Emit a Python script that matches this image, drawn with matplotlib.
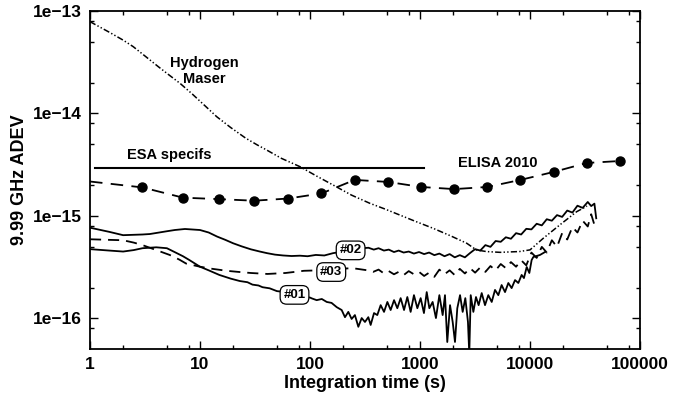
import numpy as np
import matplotlib
matplotlib.use("Agg")
import matplotlib.pyplot as plt
from matplotlib.ticker import LogLocator, FixedLocator, NullFormatter

plt.rcParams['font.family'] = ['Liberation Sans', 'DejaVu Sans']
plt.rcParams['font.weight'] = 'bold'
plt.rcParams['lines.scale_dashes'] = False

# ---------------- data ----------------
# Hydrogen maser (dash-dot-dot)
tau_maser = [1, 1.5, 2, 2.47, 3.2, 4.2, 5.3, 6.58, 8.5, 11, 14.2, 19, 26, 33, 40.4, 55,
             81, 115, 163, 238, 350, 480, 658, 900, 1310, 1900, 2660, 3250, 4000,
             5340, 8000, 10000, 13200, 18700, 26500, 33000]
adev_maser = [7.87e-14, 6.2e-14, 5.2e-14, 4.49e-14, 3.6e-14, 2.85e-14, 2.35e-14, 1.97e-14,
              1.55e-14, 1.2e-14, 9.3e-15, 7.3e-15, 5.75e-15, 4.95e-15, 4.4e-15, 3.65e-15,
              3.03e-15, 2.45e-15, 2.0e-15, 1.6e-15, 1.33e-15, 1.17e-15, 1.02e-15, 8.9e-16,
              7.6e-16, 6.4e-16, 5.42e-16, 4.67e-16, 4.5e-16, 4.42e-16, 4.5e-16, 4.67e-16,
              6.06e-16, 8.2e-16, 1.1e-15, 1.25e-15]

# ESA specification
tau_esa = [1.1, 1090]
adev_esa = [2.94e-15, 2.94e-15]

# ELISA 2010 (units 1e-15)
tau_elisa = [1, 3, 7, 15, 31, 63, 127, 255, 511, 1023, 2047, 4095, 8191, 16383, 32767, 65535]
adev_elisa = [2.17, 1.90, 1.51, 1.46, 1.41, 1.48, 1.66, 2.25, 2.15, 1.92, 1.83, 1.92,
              2.25, 2.69, 3.29, 3.44]

# #01 (units 1e-16)
tau_01 = [1, 1.5, 2, 2.5, 3, 4, 5, 6, 7, 8, 10, 12, 15, 19, 23, 27, 30, 34, 37, 43, 50,
          57, 65, 72, 80, 90, 100,
          104, 115, 128, 142, 157, 175, 194, 208, 223, 239, 256, 275, 295, 316, 339, 356,
          382, 409, 439, 471, 505, 541, 581, 622, 667, 716, 767, 822, 881, 946, 1014,
          1086, 1151, 1216, 1303, 1396, 1500, 1607, 1687, 1770, 1875, 1982, 2080, 2183,
          2312, 2443, 2582, 2729, 2805, 2891, 3055, 3228, 3412, 3639, 3899, 4178, 4487,
          4808, 5152, 5521, 5929, 6353, 6808, 7311, 7834, 8395, 8810, 9333, 9863, 10350,
          10720, 12330, 13680]
adev_01 = [4.75, 4.6, 4.5, 4.65, 4.85, 4.95, 4.85, 4.4, 4.05, 3.72, 3.2, 2.95, 2.66,
           2.45, 2.32, 2.26, 2.14, 2.1, 2.02, 1.97, 1.85, 1.82, 1.74, 1.72, 1.66, 1.63, 1.6,
           1.57, 1.51, 1.55, 1.45, 1.42, 1.29, 1.21, 1.03, 1.16, 0.99, 1.08, 0.83, 1.01,
           0.925, 1.03, 0.865, 1.13, 1.08, 1.35, 1.16, 1.45, 1.21, 1.51, 1.26, 1.58, 1.21,
           1.62, 1.16, 1.69, 1.26, 1.58, 1.13, 1.81, 1.26, 1.45, 1.01, 1.69, 1.08, 1.69,
           0.59, 1.35, 0.925, 0.59, 1.26, 1.69, 1.16, 1.58, 0.925, 0.45, 1.69, 1.16, 1.62,
           1.35, 1.77, 1.35, 1.69, 1.45, 1.90, 1.69, 2.12, 1.81, 2.22, 1.98, 2.37, 2.22,
           2.66, 2.48, 3.18, 2.78, 3.72, 3.98, 4.17, 4.45]

# #02 (units 1e-16)
tau_02 = [1, 1.5, 2, 3, 3.5, 5, 5.9, 7.3, 10, 12, 14.3, 17, 20, 24, 29, 35, 40.7, 48,
          57, 68, 81, 95, 113, 135, 162, 200, 250, 300,
          340, 380, 420, 470, 520, 580, 640, 710, 790, 880, 980, 1090, 1210, 1350, 1500,
          1670, 1860, 2070, 2300, 2560, 2850, 3170, 3530, 3930, 4370, 4870, 5420, 6030,
          6710, 7470, 8310, 9250, 10300, 11500, 12800, 14200, 15800, 17600, 19600, 21800,
          24300, 27000, 30100, 33500, 36000, 38500, 40000]
adev_02 = [7.69, 7.0, 6.5, 6.6, 6.67, 7.1, 7.3, 7.47, 7.3, 6.9, 6.3, 5.85, 5.42, 5.05,
           4.73, 4.5, 4.34, 4.2, 4.12, 4.07, 4.1, 4.05, 4.17, 4.12, 4.34, 4.5, 4.7, 4.85,
           4.9, 4.7, 4.85, 4.6, 4.7, 4.45, 4.6, 4.4, 4.5, 4.3, 4.45, 4.25, 4.4, 4.15, 4.3,
           4.05, 4.25, 3.95, 4.15, 3.95, 4.35, 4.75, 4.6, 5.2, 5.0, 5.7, 5.6, 6.2, 6.0, 6.8,
           6.6, 7.5, 7.4, 8.4, 8.1, 9.3, 9.0, 10.2, 9.8, 11.3, 10.8, 12.6, 12.0, 13.7, 12.5,
           13.2, 9.5]

# #03 (units 1e-16)
tau_03 = [1, 1.5, 2, 2.5, 3, 4, 5.3, 6.5, 7.5, 10, 13, 17.5, 23, 29, 41, 60, 88, 120,
          150, 190, 240, 270, 300, 335, 375, 420, 470, 520, 580, 640, 710, 790, 880, 980,
          1090, 1210, 1350, 1500, 1670, 1860, 2070, 2300, 2560, 2850, 3170, 3530, 3930,
          4370, 4870, 5420, 6030, 6710, 7470, 8310, 9250, 10300, 11500, 12800, 14200,
          15800, 17600, 19600, 21800, 24300, 27000, 30100, 33500, 36000, 38500, 40000]
adev_03 = [5.93, 5.85, 5.8, 5.5, 5.2, 4.65, 4.17, 3.75, 3.43, 3.2, 3.05, 2.92, 2.84, 2.78,
           2.72, 2.78, 2.92, 2.95, 3.0, 3.05, 3.1, 3.05, 3.0, 2.95, 2.85, 3.0, 2.75, 2.9,
           2.7, 2.85, 2.65, 2.9, 2.7, 2.85, 2.6, 2.8, 2.55, 3.0, 2.7, 2.95, 2.65, 3.05,
           2.75, 3.1, 2.8, 3.15, 2.85, 3.25, 2.95, 3.4, 3.1, 3.55, 3.2, 3.7, 3.3, 4.4, 3.9,
           5.0, 4.4, 5.8, 5.0, 6.8, 5.9, 7.8, 6.9, 9.0, 7.9, 10.4, 8.2, 8.7]

x_ticks = [1, 10, 100, 1000, 10000, 100000]
x_tick_labels = ["1", "10", "100", "1000", "10000", "100000"]
y_ticks = [1e-16, 1e-15, 1e-14, 1e-13]
y_tick_labels = ["1e\u221216", "1e\u221215", "1e\u221214", "1e\u221213"]

# ---------------- figure ----------------
fig = plt.figure(figsize=(6.74, 3.95), dpi=100)
ax = fig.add_axes([90 / 674, 46 / 395, 550 / 674, 338 / 395])
ax.set_xscale('log')
ax.set_yscale('log')
ax.set_xlim(1, 1e5)
ax.set_ylim(5.04e-17, 1e-13)

lw = 1.3
ax.plot(tau_maser, adev_maser, color='black', lw=1.1,
        dashes=(4.5, 1.6, 1.0, 1.6, 1.0, 1.6), zorder=2)
ax.plot(tau_esa, adev_esa, color='black', lw=1.5, zorder=2)
ax.plot(tau_elisa, np.array(adev_elisa) * 1e-15, color='black', lw=lw,
        dashes=(9, 6), marker='o', markersize=6.5, markevery=list(range(1, len(tau_elisa))),
        zorder=3)
ax.plot(tau_01, np.array(adev_01) * 1e-16, color='black', lw=lw, zorder=2)
ax.plot(tau_02, np.array(adev_02) * 1e-16, color='black', lw=lw, zorder=2)
ax.plot(tau_03, np.array(adev_03) * 1e-16, color='black', lw=lw, dashes=(8, 5), zorder=2)

# curve labels
box = dict(boxstyle='round,pad=0.25,rounding_size=0.5', fc='white', ec='black', lw=0.9)
ax.text(234, 4.62e-16, "#02", ha='center', va='center', fontsize=9.5, fontweight='bold',
        bbox=box, zorder=5)
ax.text(156, 2.84e-16, "#03", ha='center', va='center', fontsize=9.5, fontweight='bold',
        bbox=box, zorder=5)
ax.text(72.3, 1.70e-16, "#01", ha='center', va='center', fontsize=9.5, fontweight='bold',
        bbox=box, zorder=5)

ax.text(10.9, 2.6e-14, "Hydrogen\nMaser", ha='center', va='center', fontsize=10.5,
        fontweight='bold', linespacing=1.25)
ax.text(5.28, 3.91e-15, "ESA specifs", ha='center', va='center', fontsize=10.5,
        fontweight='bold')
ax.text(5070, 3.29e-15, "ELISA 2010", ha='center', va='center', fontsize=10.5,
        fontweight='bold')

# axes styling
ax.xaxis.set_major_locator(FixedLocator(x_ticks))
ax.set_xticklabels(x_tick_labels)
ax.yaxis.set_major_locator(FixedLocator(y_ticks))
ax.set_yticklabels(y_tick_labels)
ax.xaxis.set_minor_locator(LogLocator(base=10, subs=(2, 5, 8), numticks=20))
ax.yaxis.set_minor_locator(LogLocator(base=10, subs=(2, 5, 8), numticks=20))
ax.xaxis.set_minor_formatter(NullFormatter())
ax.yaxis.set_minor_formatter(NullFormatter())
ax.tick_params(which='both', direction='in', top=True, right=True, width=1.0,
               labelsize=12.5, pad=6)
ax.tick_params(which='major', length=5.8)
ax.tick_params(which='minor', length=3.0)
for lab in ax.get_xticklabels() + ax.get_yticklabels():
    lab.set_fontweight('bold')
for sp in ax.spines.values():
    sp.set_linewidth(1.3)

ax.set_xlabel("Integration time (s)", fontsize=13, fontweight='bold', labelpad=2)
ax.set_ylabel("9.99 GHz ADEV", fontsize=13, fontweight='bold', labelpad=3)

fig.savefig("out.png", dpi=100)
